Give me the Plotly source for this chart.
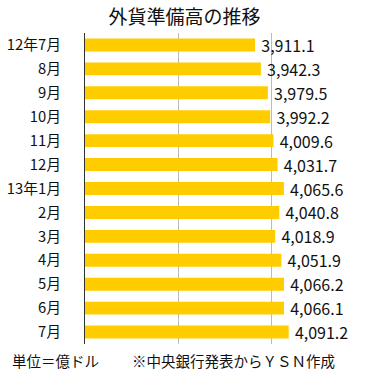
import plotly.graph_objects as go

categories = ["12年7月", "8月", "9月", "10月", "11月", "12月", "13年1月",
              "2月", "3月", "4月", "5月", "6月", "7月"]
values = [3911.1, 3942.3, 3979.5, 3992.2, 4009.6, 4031.7, 4065.6,
          4040.8, 4018.9, 4051.9, 4066.2, 4066.1, 4091.2]

title_text = "外貨準備高の推移"
unit_note = "単位＝億ドル"
source_note = "※中央銀行発表からＹＳＮ作成"

FONT = "Noto Sans CJK JP"
AXIS_MIN = 3000

fig = go.Figure(go.Bar(
    x=[v - AXIS_MIN for v in values],
    y=categories,
    base=AXIS_MIN,
    customdata=values,
    orientation="h",
    marker=dict(color="#FFCC00", line=dict(width=0)),
    texttemplate="\u2009%{customdata:,.1f}",
    textposition="outside",
    constraintext="none",
    textfont=dict(family=FONT, size=16, color="#111111"),
    cliponaxis=False,
    width=0.54,
    hoverinfo="skip",
))

fig.update_layout(
    width=381, height=376,
    margin=dict(l=85, r=16, t=33, b=32, autoexpand=False),
    paper_bgcolor="white",
    plot_bgcolor="white",
    showlegend=False,
    font=dict(family=FONT, color="#111111"),
    title=dict(text=title_text, x=184.5/381, xref="container", xanchor="center",
               y=1 - 17/376, yref="container", yanchor="middle",
               font=dict(family=FONT, size=19, color="#111111")),
    xaxis=dict(range=[3000, 4500], tickvals=[3000, 3500, 4000, 4500],
               showticklabels=False, showgrid=True, gridcolor="#BBBBBB",
               gridwidth=1, zeroline=False, showline=False, ticks="",
               automargin=False),
    yaxis=dict(autorange="reversed", showline=True, linecolor="#333333",
               linewidth=1, ticks="outside", ticklen=20, tickcolor="rgba(0,0,0,0)",
               tickfont=dict(family=FONT, size=14.8, color="#111111"),
               showgrid=False, automargin=False),
    annotations=[
        dict(text=unit_note, xref="paper", yref="paper", x=(10-85)/280,
             y=(344-361)/311, xanchor="left", yanchor="middle", showarrow=False,
             font=dict(family=FONT, size=14.5, color="#111111")),
        dict(text=source_note, xref="paper", yref="paper", x=(130-85)/280,
             y=(344-361)/311, xanchor="left", yanchor="middle", showarrow=False,
             font=dict(family=FONT, size=14.5, color="#111111")),
    ],
)

fig.write_html("out.html", config={"displayModeBar": False},
               post_script="document.body.style.margin='0';document.body.style.overflow='hidden';")
